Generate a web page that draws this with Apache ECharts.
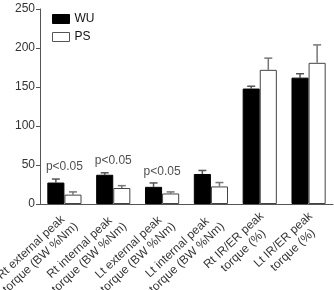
<!DOCTYPE html>
<html><head><meta charset="utf-8">
<script src="https://cdn.jsdelivr.net/npm/echarts@6/dist/echarts.min.js"></script>
<style>html,body{margin:0;padding:0;background:#fff}#c{width:334px;height:290px}</style>
</head><body><div id="c"></div>
<script>
var categories = ['Rt external peak\ntorque (BW %Nm)','Rt internal peak\ntorque (BW %Nm)','Lt external peak\ntorque (BW %Nm)','Lt internal peak\ntorque (BW %Nm)','Rt IR/ER peak\ntorque (%)','Lt IR/ER peak\ntorque (%)'];
var wuValues = [27.5, 37.5, 22, 38.5, 148, 162];
var wuErrTop = [32, 40, 27, 43, 151, 167];
var psValues = [12, 20.5, 13.5, 22.5, 172, 181];
var psErrTop = [15.5, 23.5, 15.5, 27.5, 187, 204];
var sigCats = [0, 1, 2];
var sigYs = [48, 55, 41];
var sigText = 'p<0.05';
var yTicks = [0, 50, 100, 150, 200, 250];

var chart = echarts.init(document.getElementById('c'));
var FONT = 'Liberation Sans, Arial, sans-serif';
var LABEL_FONT = '12px ' + FONT;
var measureCtx = document.createElement('canvas').getContext('2d');
measureCtx.font = LABEL_FONT;

function errSeries(vals, tops, side, color) {
  return {
    type: 'custom', silent: true, z: 1,
    data: vals.map(function(v, i){ return [i, v, tops[i]]; }),
    renderItem: function(params, api) {
      var i = api.value(0);
      var band = api.size([1, 0])[0];
      var bw = band * 0.7 / 2;
      var c = api.coord([i, api.value(1)]);
      var t = api.coord([i, api.value(2)]);
      var x = c[0] + side * bw / 2;
      var cap = 4;
      return {
        type: 'group',
        children: [
          {type: 'line', shape: {x1: x, y1: c[1], x2: x, y2: t[1]}, style: {stroke: color, lineWidth: 1.5}},
          {type: 'line', shape: {x1: x - cap, y1: t[1], x2: x + cap, y2: t[1]}, style: {stroke: color, lineWidth: 1.5}}
        ]
      };
    }
  };
}

// category labels: rotated, lines centred on each other, anchored at the category position
function labelSeries() {
  return {
    type: 'custom', silent: true, z: 5, clip: false,
    data: categories.map(function(c, i){ return [i, 0]; }),
    renderItem: function(params, api) {
      var i = api.value(0);
      var p = api.coord([i, 0]);
      var ang = 43 * Math.PI / 180;
      var lines = categories[i].split('\n');
      var wmax = 0;
      lines.forEach(function(s){ wmax = Math.max(wmax, measureCtx.measureText(s).width); });
      var lh = 14;
      var children = lines.map(function(s, k){
        return {
          type: 'text', x: -wmax / 2, y: k * lh,
          style: {text: s, fill: '#333', font: LABEL_FONT, textAlign: 'center', textVerticalAlign: 'top'}
        };
      });
      return {type: 'group', x: p[0] - 2, y: p[1] + 6, rotation: ang, children: children};
    }
  };
}

chart.setOption({
  animation: false,
  grid: {left: 40, right: 1, top: 9, bottom: 86},
  legend: {
    orient: 'vertical', left: 47, top: 8, itemWidth: 17, itemHeight: 9, itemGap: 6, icon: 'rect',
    textStyle: {fontFamily: FONT, fontSize: 12, color: '#111'},
    data: [
      {name: 'WU', itemStyle: {color: '#000', borderColor: '#000', borderWidth: 1}},
      {name: 'PS', itemStyle: {color: '#fff', borderColor: '#555', borderWidth: 1}}
    ]
  },
  xAxis: {
    type: 'category', data: categories,
    axisLine: {lineStyle: {color: '#555', width: 1}},
    axisTick: {show: false},
    axisLabel: {show: false}
  },
  yAxis: {
    type: 'value', min: 0, max: 250, interval: 50,
    axisLine: {show: true, lineStyle: {color: '#555', width: 1}},
    axisTick: {show: true, length: 4, lineStyle: {color: '#555'}},
    splitLine: {show: false},
    axisLabel: {color: '#333', fontFamily: FONT, fontSize: 12, margin: 5,
      formatter: function(v){ return yTicks.indexOf(v) >= 0 ? String(v) : ''; }}
  },
  series: [
    {name: 'WU', type: 'bar', data: wuValues, barGap: '0%', barCategoryGap: '30%',
      itemStyle: {color: '#000', borderColor: '#000', borderWidth: 1}, z: 2},
    {name: 'PS', type: 'bar', data: psValues, barGap: '0%', barCategoryGap: '30%',
      itemStyle: {color: '#fff', borderColor: '#444', borderWidth: 1}, z: 2},
    errSeries(wuValues, wuErrTop, -1, '#555'),
    errSeries(psValues, psErrTop, 1, '#777'),
    {type: 'scatter', symbolSize: 0, silent: true,
      data: sigCats.map(function(c, i){ return [c, sigYs[i]]; }),
      label: {show: true, position: 'inside', formatter: sigText, color: '#222', fontFamily: FONT, fontSize: 12}},
    labelSeries()
  ]
});
</script></body></html>
